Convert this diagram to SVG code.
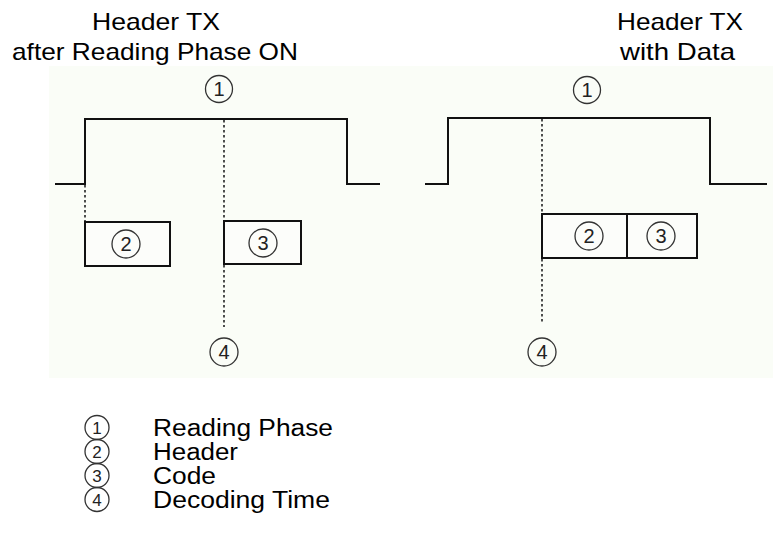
<svg xmlns="http://www.w3.org/2000/svg" width="773" height="536" viewBox="0 0 773 536">
<style>
.t{font-family:"Liberation Sans",Arial,sans-serif;font-size:24px;fill:#000}
.l{font-family:"Liberation Sans",Arial,sans-serif;font-size:23px;fill:#000}
.n{font-family:"Liberation Sans",Arial,sans-serif;font-size:20px;fill:#222;text-anchor:middle}
.m{font-family:"Liberation Sans",Arial,sans-serif;font-size:17px;fill:#222;text-anchor:middle}
.c{fill:none;stroke:#333;stroke-width:1.3}
.w{fill:none;stroke:#111;stroke-width:2}
.d{fill:none;stroke:#222;stroke-width:1.6;stroke-dasharray:2.5,2.5}
.b{fill:#fcfdfa;stroke:#111;stroke-width:2}
</style>
<rect x="0" y="0" width="773" height="536" fill="#fff"/>
<rect id="panel" x="49" y="66" width="724" height="312" fill="#fafdf7"/>
<g id="titles">
<text class="t" x="92" y="30" textLength="128" lengthAdjust="spacingAndGlyphs">Header TX</text>
<text class="t" x="12" y="60" textLength="286" lengthAdjust="spacingAndGlyphs">after Reading Phase ON</text>
<text class="t" x="617" y="30" textLength="126" lengthAdjust="spacingAndGlyphs">Header TX</text>
<text class="t" x="620" y="60" textLength="115" lengthAdjust="spacingAndGlyphs">with Data</text>
</g>
<g id="connectors">
<polyline class="w" points="55,184 85,184 85,119 347,119 347,184 380,184"/>
<line class="d" x1="85" y1="185" x2="85" y2="222"/>
<line class="d" x1="224" y1="120" x2="224" y2="327"/>
<polyline class="w" points="425,184 448,184 448,118 710,118 710,184 767,184"/>
<line class="d" x1="542" y1="119" x2="542" y2="322"/>
</g>
<g id="label1-left"><circle class="c" cx="219" cy="89" r="13.5"/><text class="n" x="219" y="96">1</text></g>
<g id="box2-left"><rect class="b" x="85" y="222" width="85" height="44"/><circle class="c" cx="126" cy="244" r="14"/><text class="n" x="126" y="251">2</text></g>
<g id="box3-left"><rect class="b" x="224" y="221" width="77" height="43"/><circle class="c" cx="263" cy="243" r="14"/><text class="n" x="263" y="250">3</text></g>
<g id="label4-left"><circle class="c" cx="224" cy="352" r="14"/><text class="n" x="224" y="359">4</text></g>
<g id="label1-right"><circle class="c" cx="587" cy="90" r="13.5"/><text class="n" x="587" y="97">1</text></g>
<g id="box23-right"><rect class="b" x="542" y="214" width="155" height="44"/><line class="w" x1="627" y1="214" x2="627" y2="258"/><circle class="c" cx="589" cy="236" r="14"/><text class="n" x="589" y="243">2</text><circle class="c" cx="661" cy="236" r="14"/><text class="n" x="661" y="243">3</text></g>
<g id="label4-right"><circle class="c" cx="542" cy="352" r="14"/><text class="n" x="542" y="359">4</text></g>
<g id="legend">
<circle class="c" cx="97" cy="427.5" r="12"/><text class="m" x="97" y="433.5">1</text>
<circle class="c" cx="97" cy="451.5" r="12"/><text class="m" x="97" y="457.5">2</text>
<circle class="c" cx="97" cy="475.5" r="12"/><text class="m" x="97" y="481.5">3</text>
<circle class="c" cx="97" cy="499.5" r="12"/><text class="m" x="97" y="505.5">4</text>
<text class="l" x="153" y="436" textLength="180" lengthAdjust="spacingAndGlyphs">Reading Phase</text>
<text class="l" x="153" y="460" textLength="85" lengthAdjust="spacingAndGlyphs">Header</text>
<text class="l" x="153" y="484" textLength="63" lengthAdjust="spacingAndGlyphs">Code</text>
<text class="l" x="153" y="508" textLength="177" lengthAdjust="spacingAndGlyphs">Decoding Time</text>
</g>
</svg>
